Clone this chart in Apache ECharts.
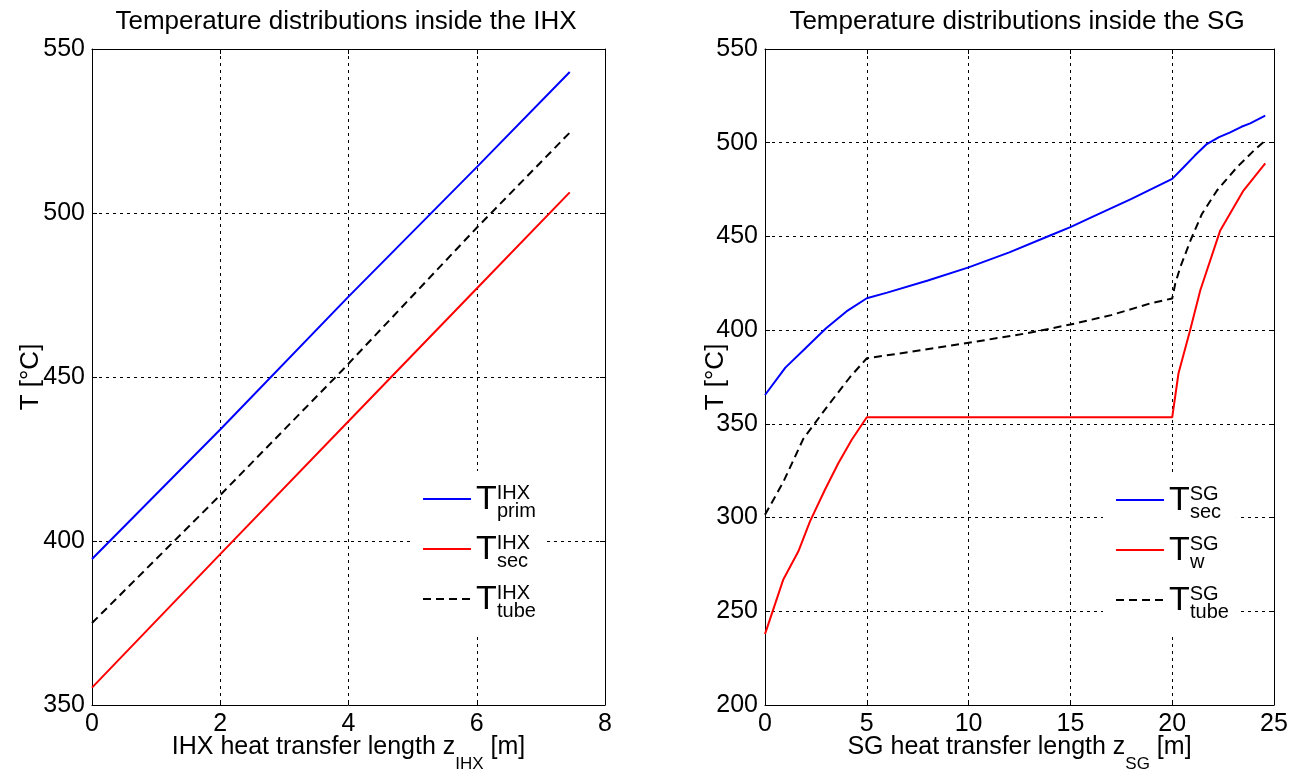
<!DOCTYPE html>
<html>
<head>
<meta charset="utf-8">
<script src="https://cdn.jsdelivr.net/npm/echarts@6/dist/echarts.min.js"></script>
<style>
html,body{margin:0;padding:0;background:#fff;}
#c{width:1300px;height:771px;}
</style>
</head>
<body>
<div id="c"></div>
<script>
// ---------- data ----------
// IHX (left)
const ihxPrimZ = [0, 2, 4, 6, 7.45];
const ihxPrimT = [394.5, 434, 474.5, 514, 543];
const ihxSecZ  = [0, 2, 4, 6, 7.45];
const ihxSecT  = [355.3, 396, 436.5, 477, 506.3];
const ihxTubeZ = [0, 2, 3.9, 6, 7.45];
const ihxTubeT = [375, 414, 452, 495.5, 524.5];

// SG (right)
const sgSecZ = [0, 1, 2, 3, 4, 5, 6, 8, 10, 12, 14, 15, 16, 18, 20, 20.56, 21.1, 21.7, 22.3, 22.85, 23.4, 23.83, 24.57];
const sgSecT = [365.4, 380, 390.5, 401, 410, 417, 420, 426.5, 433.5, 441.5, 450.5, 455, 460, 470, 480.7, 486.9, 493, 499.3, 503, 505.5, 508.5, 510.3, 514.4];
const sgWZ = [0, 0.9, 1.64, 2.21, 2.95, 3.6, 4.26, 5, 20, 20.31, 20.88, 21.38, 22.36, 23.5, 24.57];
const sgWT = [237.8, 267, 282, 298, 315, 329, 341.5, 353.5, 353.5, 377, 400, 421.3, 453.2, 474.5, 489];
const sgTubeZ = [0, 0.9, 1.88, 3.11, 4.18, 5, 6.5, 10.2, 12.9, 15, 17, 18.9, 20, 20.15, 20.4, 20.9, 21.46, 22.2, 23.18, 24, 24.57];
const sgTubeT = [301.5, 319, 342, 360, 375, 385, 387.4, 393.6, 398.4, 403, 408, 414.2, 416.9, 424.8, 433.7, 447.9, 462, 474.5, 486.9, 495.7, 501.2];

// axes
const ihxXTicks = {min: 0, max: 8, interval: 2};
const ihxYTicks = {min: 350, max: 550, interval: 50};
const sgXTicks = {min: 0, max: 25, interval: 5};
const sgYTicks = {min: 200, max: 550, interval: 50};

const titles = ['Temperature distributions inside the IHX', 'Temperature distributions inside the SG'];

// legend labels: [superscript, subscript]
const legendText = {
  'ihx_prim': ['IHX', 'prim'],
  'ihx_sec': ['IHX', 'sec'],
  'ihx_tube': ['IHX', 'tube'],
  'sg_sec': ['SG', 'sec'],
  'sg_w': ['SG', 'w'],
  'sg_tube': ['SG', 'tube']
};

// ---------- chart ----------
const FONT = "'Liberation Sans', Arial, sans-serif";
const pair = (xs, ys) => xs.map((x, i) => [x, ys[i]]);

const grids = [
  {left: 92, right: 695, top: 49, bottom: 66, containLabel: false, outerBoundsMode: 'none'},
  {left: 765, right: 26, top: 49, bottom: 66, containLabel: false, outerBoundsMode: 'none'}
];

function mainX(gi, t, nameRich) {
  return {
    type: 'value', gridIndex: gi, min: t.min, max: t.max, interval: t.interval,
    position: 'bottom',
    name: nameRich, nameLocation: 'middle', nameGap: 30, nameMoveOverlap: false,
    nameTextStyle: {
      fontFamily: FONT, fontSize: 25, color: '#000',
      rich: {
        a: {fontFamily: FONT, fontSize: 25, color: '#000', verticalAlign: 'top', lineHeight: 28},
        s: {fontFamily: FONT, fontSize: 17, color: '#000', verticalAlign: 'top', padding: [21, 0, 0, 0]}
      }
    },
    axisLine: {show: true, onZero: false, lineStyle: {color: '#000', width: 1}},
    axisTick: {show: true, inside: true, length: 5, lineStyle: {color: '#000'}},
    axisLabel: {fontFamily: FONT, fontSize: 25, color: '#000', margin: 7},
    splitLine: {show: true, lineStyle: {color: '#000', type: [3, 4], width: 1}}
  };
}
function topX(gi, t) {
  return {
    type: 'value', gridIndex: gi, min: t.min, max: t.max, interval: t.interval,
    position: 'top',
    axisLine: {show: true, onZero: false, lineStyle: {color: '#000', width: 1}},
    axisTick: {show: true, inside: true, length: 5, lineStyle: {color: '#000'}},
    axisLabel: {show: false}, splitLine: {show: false}
  };
}
function mainY(gi, t, gap) {
  return {
    type: 'value', gridIndex: gi, min: t.min, max: t.max, interval: t.interval,
    position: 'left',
    name: 'T [°C]', nameLocation: 'middle', nameGap: gap, nameRotate: 90, nameMoveOverlap: false,
    nameTextStyle: {fontFamily: FONT, fontSize: 26, color: '#000'},
    axisLine: {show: true, onZero: false, lineStyle: {color: '#000', width: 1}},
    axisTick: {show: true, inside: true, length: 5, lineStyle: {color: '#000'}},
    axisLabel: {fontFamily: FONT, fontSize: 25, color: '#000', margin: 7},
    splitLine: {show: true, lineStyle: {color: '#000', type: [3, 4], width: 1}}
  };
}
function rightY(gi, t) {
  return {
    type: 'value', gridIndex: gi, min: t.min, max: t.max, interval: t.interval,
    position: 'right',
    axisLine: {show: true, onZero: false, lineStyle: {color: '#000', width: 1}},
    axisTick: {show: true, inside: true, length: 5, lineStyle: {color: '#000'}},
    axisLabel: {show: false}, splitLine: {show: false}
  };
}

function legendFormatter(name) {
  const t = legendText[name];
  return '{T|T}{sup|' + t[0] + '}\n{g|}{sub|' + t[1] + '}';
}
const legendRich = {
  T: {fontFamily: FONT, fontSize: 34, color: '#000', lineHeight: 18, verticalAlign: 'top'},
  sup: {fontFamily: FONT, fontSize: 20, color: '#000', lineHeight: 18, verticalAlign: 'top'},
  g: {width: 21, lineHeight: 14, verticalAlign: 'top'},
  sub: {fontFamily: FONT, fontSize: 20, color: '#000', lineHeight: 14, verticalAlign: 'top'}
};

function legend(names, left, top) {
  return {
    data: names, orient: 'vertical', left: left, top: top,
    itemWidth: 48, itemHeight: 14, itemGap: 12,
    backgroundColor: '#fff', borderWidth: 0, padding: [12, 8, 12, 12],
    selectedMode: false,
    itemStyle: {color: 'transparent', borderColor: 'transparent', borderWidth: 0},
    formatter: legendFormatter,
    textStyle: {rich: legendRich, padding: [0, 0, 0, 0]}
  };
}

function line(name, xi, yi, xs, ys, color, dashed) {
  return {
    name: name, type: 'line', xAxisIndex: xi, yAxisIndex: yi,
    data: pair(xs, ys), showSymbol: false, symbol: 'none', smooth: false,
    animation: false,
    lineStyle: {color: color, width: 2, type: dashed ? [8, 5] : 'solid'},
    itemStyle: {color: color}
  };
}

const option = {
  backgroundColor: '#fff',
  animation: false,
  title: [
    {text: titles[0], left: 341, top: 4, textAlign: 'center',
     textStyle: {fontFamily: FONT, fontSize: 26, fontWeight: 'normal', color: '#000'}},
    {text: titles[1], left: 1012, top: 4, textAlign: 'center',
     textStyle: {fontFamily: FONT, fontSize: 26, fontWeight: 'normal', color: '#000'}}
  ],
  grid: grids,
  xAxis: [
    mainX(0, ihxXTicks, '{a|IHX heat transfer length z}{s|IHX}{a| [m]}'),
    mainX(1, sgXTicks, '{a|SG heat transfer length z}{s|SG}{a| [m]}'),
    topX(0, ihxXTicks),
    topX(1, sgXTicks)
  ],
  yAxis: [
    mainY(0, ihxYTicks, 48),
    mainY(1, sgYTicks, 36),
    rightY(0, ihxYTicks),
    rightY(1, sgYTicks)
  ],
  legend: [
    legend(['ihx_prim', 'ihx_sec', 'ihx_tube'], 410, 471),
    legend(['sg_sec', 'sg_w', 'sg_tube'], 1103, 472)
  ],
  series: [
    line('ihx_prim', 0, 0, ihxPrimZ, ihxPrimT, '#0000ff', false),
    line('ihx_sec', 0, 0, ihxSecZ, ihxSecT, '#ff0000', false),
    line('ihx_tube', 0, 0, ihxTubeZ, ihxTubeT, '#000000', true),
    line('sg_sec', 1, 1, sgSecZ, sgSecT, '#0000ff', false),
    line('sg_w', 1, 1, sgWZ, sgWT, '#ff0000', false),
    line('sg_tube', 1, 1, sgTubeZ, sgTubeT, '#000000', true)
  ]
};

const chart = echarts.init(document.getElementById('c'), null, {renderer: 'canvas'});
chart.setOption(option);
</script>
</body>
</html>
